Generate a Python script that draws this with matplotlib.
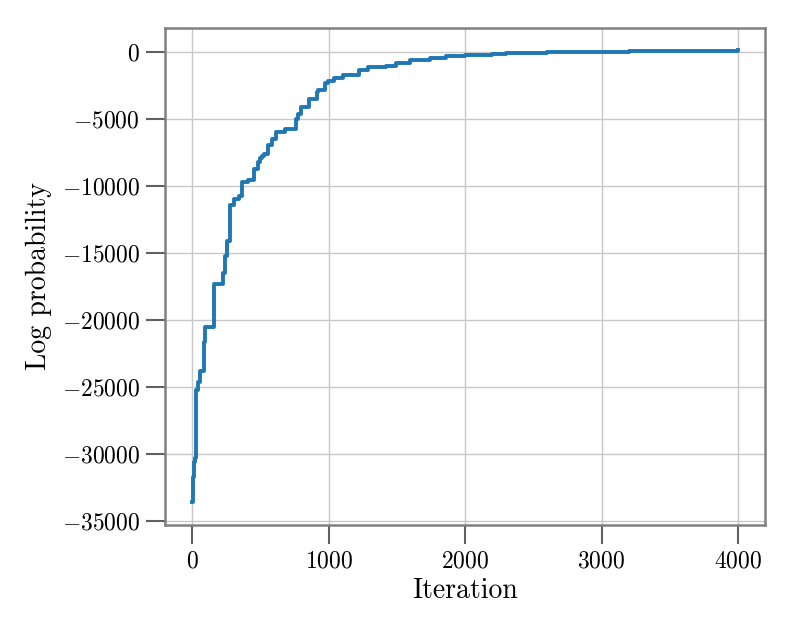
import numpy as np
import matplotlib
matplotlib.use("Agg")
import matplotlib.pyplot as plt

plt.rcParams['font.family'] = 'serif'
plt.rcParams['font.serif'] = ['cmr10']
plt.rcParams['mathtext.fontset'] = 'cm'
plt.rcParams['axes.formatter.use_mathtext'] = True

# step trace of the log probability
iterations = [0, 5, 10, 22, 29, 44, 56, 83, 95, 161, 223, 240, 254, 277, 308,
              345, 362, 411, 455, 485, 497, 511, 528, 553, 582, 614, 680, 761,
              773, 798, 859, 913, 925, 976, 993, 1042, 1103, 1226, 1287, 1420,
              1495, 1593, 1740, 1862, 2000, 2100, 2200, 2300, 2400, 2500, 2600,
              2700, 2800, 2900, 3000, 3200, 3400, 3600, 3800, 4000]
log_prob = [-33600, -31700, -30600, -30300, -25200, -24630, -23810, -21670,
            -20550, -17350, -16480, -15240, -14120, -11460, -11020, -10730,
            -9710, -9590, -8720, -8200, -7970, -7800, -7600, -7000, -6500,
            -5980, -5740, -5020, -4690, -4150, -3500, -3000, -2830, -2330,
            -2160, -1960, -1710, -1340, -1140, -1050, -870, -650, -470, -350,
            -290, -230, -170, -130, -100, -75, -50, -35, -20, -10, 0, 20, 35,
            50, 65, 80]

fig = plt.figure(figsize=(7.93, 6.34), dpi=100)
ax = fig.add_axes([0.208, 0.172, 0.757, 0.784])

ax.plot(iterations, log_prob, drawstyle='steps-post', color='#1f77b4', lw=2.8)

ax.grid(True, color='#c8c8c8', lw=1.0)
ax.set_axisbelow(True)
for sp in ax.spines.values():
    sp.set_color('#808080')
    sp.set_linewidth(1.8)
ax.tick_params(axis='both', direction='out', length=14, width=1.5,
               color='#606060', labelsize=17, pad=4)

ax.set_xticks([0, 1000, 2000, 3000, 4000])
ax.set_yticks(np.arange(-35000, 1, 5000))
ax.set_xlabel('Iteration', fontsize=20, labelpad=4)
ax.set_ylabel('Log probability', fontsize=20, labelpad=7)

fig.savefig('out.png', dpi=100)
